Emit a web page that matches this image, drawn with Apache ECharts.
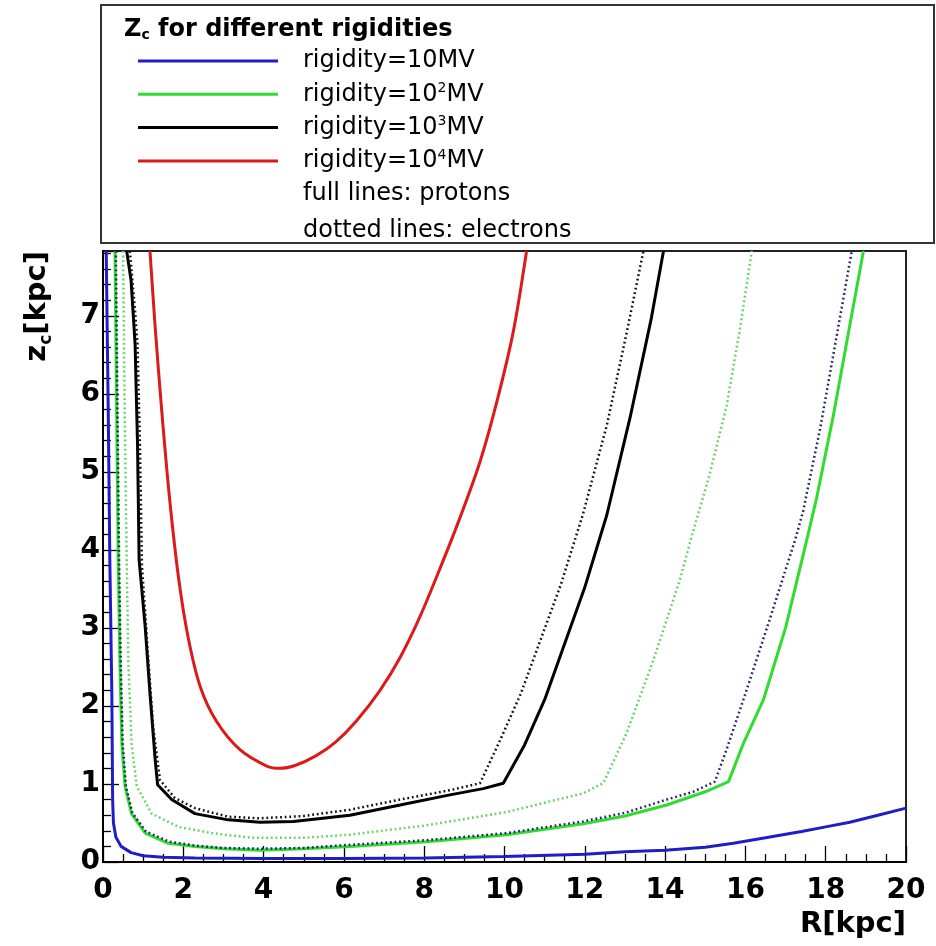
<!DOCTYPE html>
<html><head><meta charset="utf-8">
<script src="https://cdn.jsdelivr.net/npm/echarts@6/dist/echarts.min.js"></script>
<style>html,body{margin:0;padding:0;background:#fff}#c{width:936px;height:946px}</style>
</head><body><div id="c"></div><script>
// ---- data (R in kpc, z_c in kpc) ----
const R_p10 = [0.08,0.13,0.17,0.22,0.24,0.26,0.32,0.45,0.7,1.0,1.5,2.3,4,6,8,10,12,13,14,15,15.7,16.5,17.4,18,18.6,19.3,20];
const Z_p10 = [7.83,5.8,3.87,2.16,0.8,0.5,0.32,0.2,0.12,0.08,0.06,0.05,0.045,0.045,0.05,0.07,0.1,0.13,0.15,0.19,0.24,0.31,0.39,0.45,0.51,0.6,0.69];

const R_p100 = [0.3,0.34,0.38,0.42,0.47,0.55,0.71,1.05,1.63,2.29,3.0,3.9,5.0,6.15,8.06,10.05,11.96,13.0,14.04,15.0,15.58,15.95,16.45,17.0,17.53,17.78,18.19,18.52,18.94];
const Z_p100 = [7.83,5.8,3.87,2.59,1.52,0.97,0.62,0.37,0.24,0.2,0.17,0.15,0.17,0.2,0.26,0.35,0.49,0.59,0.73,0.9,1.03,1.52,2.08,3.0,4.13,4.68,5.72,6.65,7.83];

const R_p1000 = [0.59,0.7,0.8,0.86,0.9,1.05,1.17,1.3,1.36,1.71,2.29,3.12,3.91,4.74,6.15,7.4,8.64,9.47,9.97,10.5,11.0,11.5,12.0,12.55,13.13,13.65,13.96];
const Z_p1000 = [7.83,7.45,6.63,5.35,3.87,3.02,2.16,1.31,0.99,0.8,0.62,0.54,0.51,0.52,0.6,0.73,0.86,0.94,1.01,1.5,2.08,2.8,3.52,4.45,5.7,6.95,7.83];

const R_p10000 = [1.17,1.3,1.46,1.65,1.88,2.12,2.42,2.83,3.41,4.08,4.4,4.8,5.3,5.8,6.3,6.9,7.4,7.9,8.4,8.89,9.39,9.81,10.22,10.55];
const Z_p10000 = [7.83,6.85,5.8,4.7,3.65,2.88,2.25,1.8,1.44,1.23,1.2,1.24,1.36,1.54,1.8,2.2,2.62,3.15,3.77,4.41,5.13,5.9,6.8,7.83];

const R_e10 = [0.32,0.36,0.4,0.44,0.49,0.57,0.73,1.07,1.65,2.3,3.0,3.9,5.0,6.15,8.06,10.05,11.96,13.0,14.04,14.7,15.24,15.53,15.95,16.6,17.24,17.44,17.86,18.19,18.65];
const Z_e10 = [7.83,5.8,3.87,2.59,1.52,0.97,0.63,0.39,0.26,0.21,0.18,0.17,0.18,0.22,0.28,0.37,0.52,0.63,0.8,0.9,1.03,1.44,2.08,3.1,4.13,4.5,5.55,6.5,7.83];

const R_e100 = [0.5,0.54,0.59,0.63,0.71,0.84,1.21,1.88,2.71,3.7,5.0,6.15,8.06,10.05,11.96,12.46,13.04,13.71,14.12,14.37,14.66,15.1,15.53,15.87,16.16];
const Z_e100 = [7.83,5.8,3.87,2.59,1.52,0.97,0.62,0.45,0.37,0.31,0.31,0.35,0.47,0.64,0.88,1.01,1.65,2.59,3.23,3.62,4.17,4.95,5.84,6.85,7.83];

const R_e1000 = [0.67,0.8,0.86,0.92,0.97,1.13,1.25,1.42,1.79,2.29,3.12,3.91,5.0,6.15,7.4,8.64,9.39,9.89,10.4,10.9,11.4,11.95,12.55,13.05,13.46];
const Z_e1000 = [7.83,7.05,6.63,5.35,3.8,2.59,1.73,1.05,0.82,0.69,0.58,0.56,0.59,0.67,0.8,0.92,1.01,1.56,2.15,2.85,3.55,4.45,5.6,6.8,7.83];

const legendNames = ['rigidity=10MV','rigidity=10{sup|2}MV','rigidity=10{sup|3}MV','rigidity=10{sup|4}MV'];
const noteLines = ['full lines: protons','dotted lines: electrons'];
const xMin = 0, xMax = 20, xStep = 2;
const yMin = 0, yMax = 7.83, yStep = 1;

// ---- build ----
function pairs(xs, ys){ return xs.map((x,i)=>[x, ys[i]]); }
const FONT = 'DejaVu Sans';
const BLUE = '#1e1ec8', GREEN = '#2fdc2f', BLACK = '#000000', RED = '#dc1a1a';

function solid(name, xs, ys, color, sm){
  return {type:'line', name, data:pairs(xs,ys), symbol:'none', showSymbol:false, clip:true,
    smooth: sm || false,
    itemStyle:{color}, lineStyle:{color, width:3}, z:3, silent:true};
}
function dotted(name, xs, ys, color, w){
  return {type:'line', name, data:pairs(xs,ys), symbol:'none', showSymbol:false, clip:true,
    itemStyle:{color}, lineStyle:{color, width:w||2.5, type:[1.8,2.8]}, z:4, silent:true};
}

const chart = echarts.init(document.getElementById('c'), null, {renderer:'canvas'});
chart.setOption({
  animation:false,
  backgroundColor:'#fff',
  textStyle:{fontFamily:FONT},
  title:{
    text:'{z|Z}{sub|c}{b| for different rigidities}',
    left:119, top:7,
    textStyle:{
      rich:{
        z:{fontFamily:FONT, fontWeight:'bold', fontSize:24, color:'#000', lineHeight:30, verticalAlign:'bottom'},
        sub:{fontFamily:FONT, fontWeight:'bold', fontSize:14, color:'#000', lineHeight:30, verticalAlign:'bottom'},
        b:{fontFamily:FONT, fontWeight:'bold', fontSize:24, color:'#000', lineHeight:30, verticalAlign:'bottom'}
      }
    }
  },
  legend:{
    orient:'vertical', left:133, top:43,
    data:legendNames,
    icon:'rect', itemWidth:140, itemHeight:3, itemGap:7.3,
    selectedMode:false,
    textStyle:{fontFamily:FONT, fontSize:24, color:'#000', lineHeight:26, padding:[0,0,0,20],
      rich:{sup:{fontFamily:FONT, fontSize:14, color:'#000', verticalAlign:'top', lineHeight:26}}}
  },
  graphic:[
    {type:'rect', z:-1, shape:{x:101, y:5, width:833, height:238}, style:{fill:'#fff', stroke:'#333', lineWidth:2}},
    {type:'text', left:303, top:182, style:{text:noteLines[0], font:'24px "DejaVu Sans"', fill:'#000'}},
    {type:'text', left:303, top:219, style:{text:noteLines[1], font:'24px "DejaVu Sans"', fill:'#000'}}
  ],
  grid:{left:103, right:30, top:251, bottom:84, show:true, borderColor:'#222', borderWidth:2, backgroundColor:'#fff'},
  xAxis:{
    type:'value', min:xMin, max:xMax, interval:xStep,
    name:'R[kpc]', nameLocation:'end', nameGap:0,
    nameTextStyle:{fontFamily:FONT, fontWeight:'bold', fontSize:29, color:'#000', align:'right', verticalAlign:'top', padding:[48,0,0,0]},
    axisLine:{show:true, onZero:false, lineStyle:{color:'#000', width:2}},
    axisTick:{show:true, inside:true, length:16, lineStyle:{color:'#000', width:1.3}},
    minorTick:{show:true, splitNumber:4, length:8, lineStyle:{color:'#000', width:1.3}},
    splitLine:{show:false},
    axisLabel:{fontFamily:FONT, fontWeight:'bold', fontSize:28, color:'#000', margin:15}
  },
  yAxis:{
    type:'value', min:yMin, max:yMax, interval:yStep,
    name:'z{sub|c}[kpc]', nameLocation:'end', nameGap:0, nameRotate:90,
    nameTextStyle:{fontFamily:FONT, fontWeight:'bold', fontSize:29, color:'#000', align:'right', verticalAlign:'bottom', padding:[0,0,48,0],
      rich:{sub:{fontFamily:FONT, fontWeight:'bold', fontSize:17, color:'#000', verticalAlign:'bottom', lineHeight:36}}},
    axisLine:{show:true, onZero:false, lineStyle:{color:'#000', width:2}},
    axisTick:{show:true, inside:true, length:16, lineStyle:{color:'#000', width:1.3}},
    minorTick:{show:true, splitNumber:5, length:8, lineStyle:{color:'#000', width:1.3}},
    splitLine:{show:false},
    axisLabel:{fontFamily:FONT, fontWeight:'bold', fontSize:28, color:'#000', margin:3, showMaxLabel:false}
  },
  series:[
    solid(legendNames[0], R_p10, Z_p10, BLUE),
    solid(legendNames[1], R_p100, Z_p100, GREEN),
    solid(legendNames[2], R_p1000, Z_p1000, BLACK),
    solid(legendNames[3], R_p10000, Z_p10000, RED, 0.3),
    dotted('electrons 10MV', R_e10, Z_e10, '#22226e', 2.5),
    dotted('electrons 100MV', R_e100, Z_e100, '#5cd65c', 2.5),
    dotted('electrons 1000MV', R_e1000, Z_e1000, '#111111', 2.5)
  ]
});
</script></body></html>
